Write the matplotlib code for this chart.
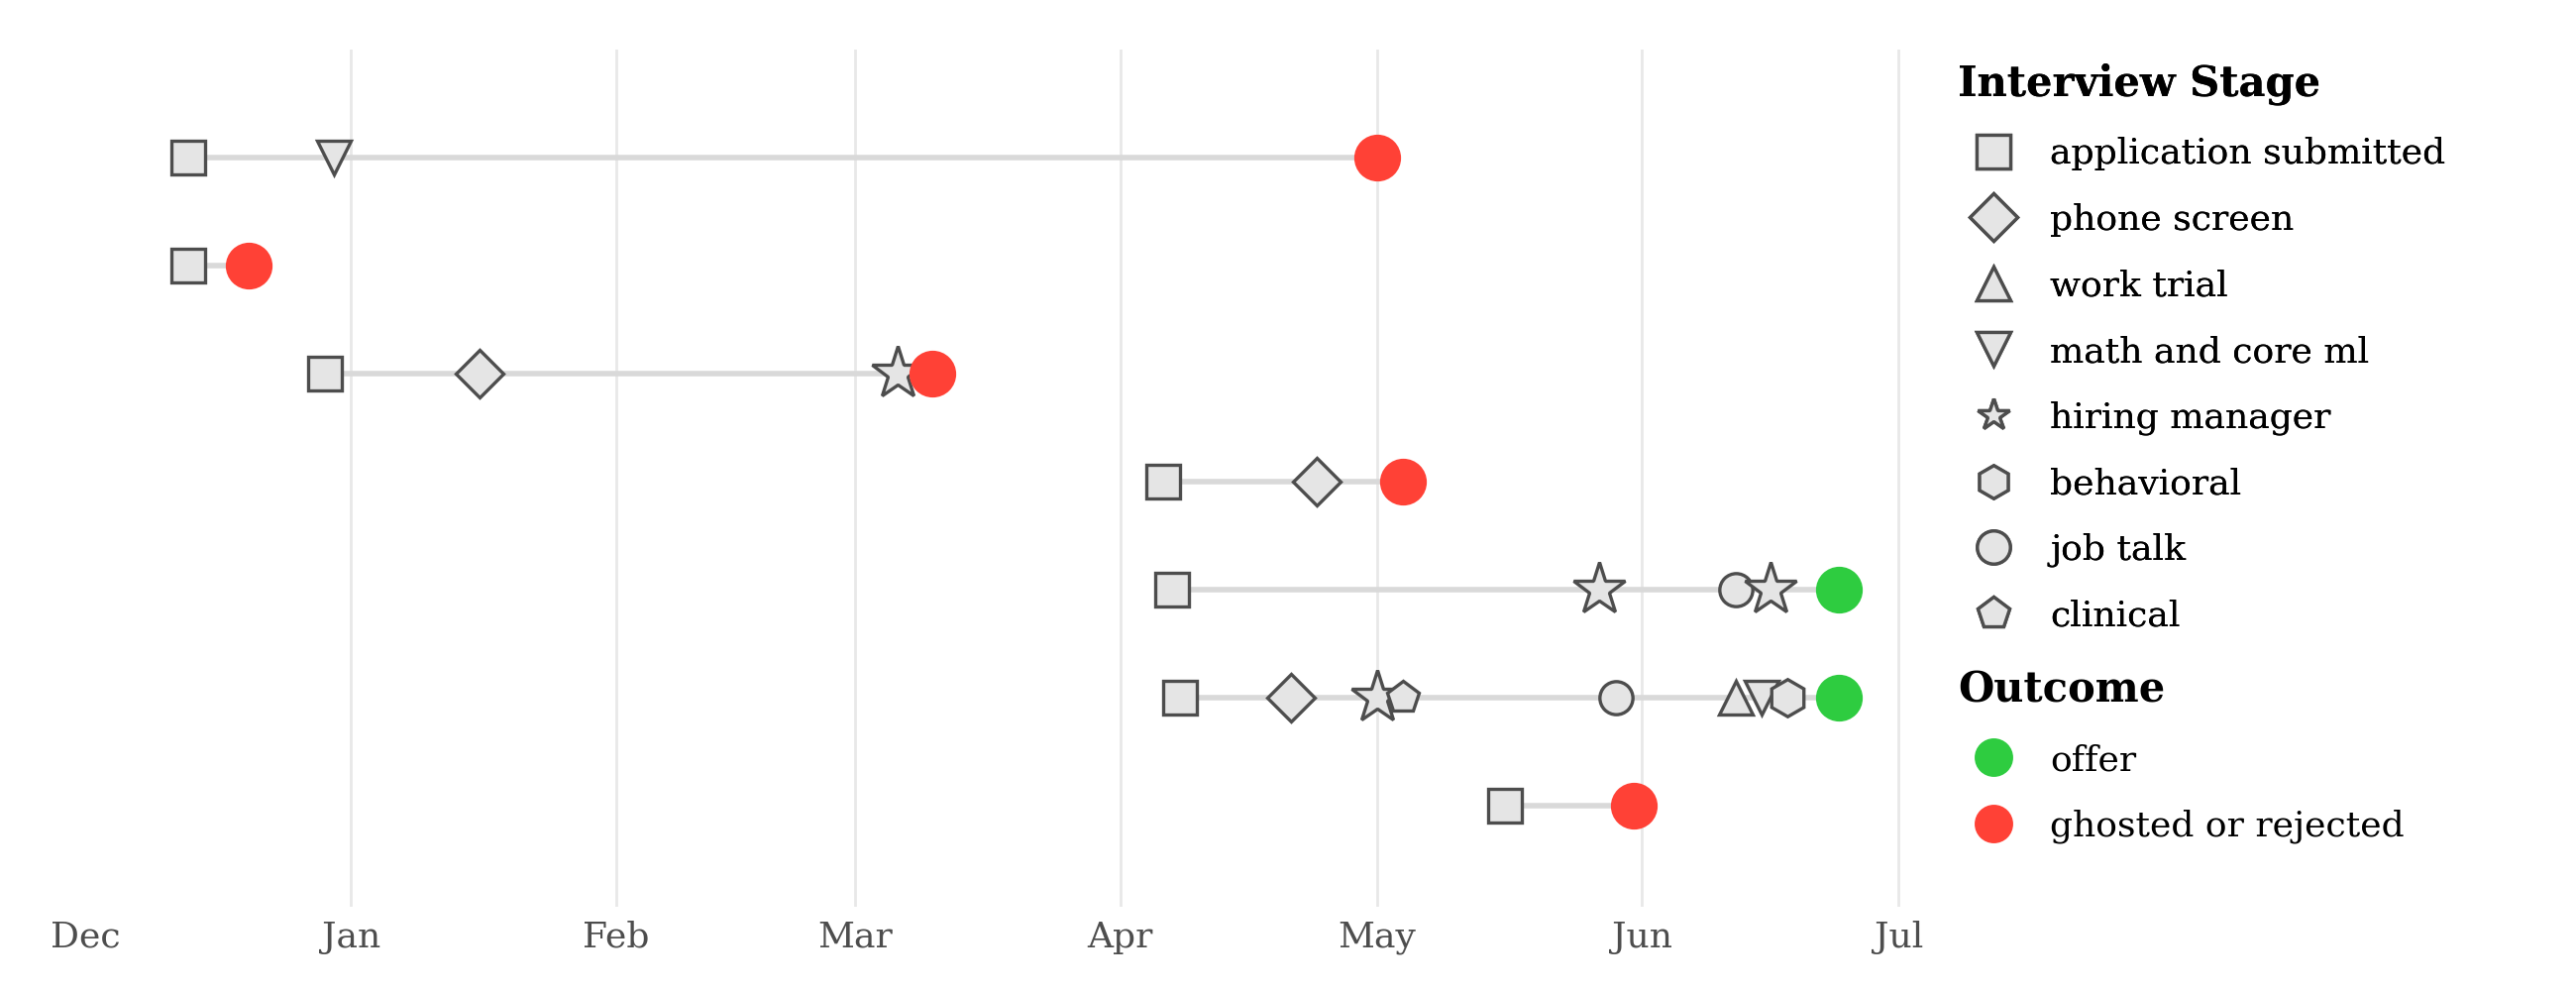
import matplotlib
matplotlib.use("Agg")
import matplotlib.pyplot as plt
import matplotlib.dates as mdates
from matplotlib.lines import Line2D
import pandas as pd

plt.rcParams['font.family'] = ['DejaVu Serif']

# ---- data ----
stages = ["application submitted", "phone screen", "work trial", "math and core ml",
          "hiring manager", "behavioral", "job talk", "clinical"]
stage_markers = ["s", "D", "^", "v", "*", "h", "o", "p"]

# one list per application (top to bottom): (stage, date)
app_events = [
    [("application submitted", "2024-12-13"), ("math and core ml", "2024-12-30")],
    [("application submitted", "2024-12-13")],
    [("application submitted", "2024-12-29"), ("phone screen", "2025-01-16"),
     ("hiring manager", "2025-03-06")],
    [("application submitted", "2025-04-06"), ("phone screen", "2025-04-24")],
    [("application submitted", "2025-04-07"), ("hiring manager", "2025-05-27"),
     ("job talk", "2025-06-12"), ("hiring manager", "2025-06-16")],
    [("application submitted", "2025-04-08"), ("phone screen", "2025-04-21"),
     ("hiring manager", "2025-05-01"), ("clinical", "2025-05-04"),
     ("job talk", "2025-05-29"), ("work trial", "2025-06-12"),
     ("math and core ml", "2025-06-15"), ("behavioral", "2025-06-18")],
    [("application submitted", "2025-05-16")],
]
outcome_dates = ["2025-05-01", "2024-12-20", "2025-03-10", "2025-05-04",
                 "2025-06-24", "2025-06-24", "2025-05-31"]
outcomes = ["ghosted or rejected", "ghosted or rejected", "ghosted or rejected",
            "ghosted or rejected", "offer", "offer", "ghosted or rejected"]
outcome_colors = {"offer": "#2ECC40", "ghosted or rejected": "#FF4136"}

month_ticks = ["2024-12-01", "2025-01-01", "2025-02-01", "2025-03-01",
               "2025-04-01", "2025-05-01", "2025-06-01", "2025-07-01"]

FACE = "#e5e5e5"
EDGE = "#4d4d4d"

fig = plt.figure(figsize=(13, 5), dpi=200)
ax = fig.add_axes([0.0333, 0.085, 0.717, 0.865])

for i, evs in enumerate(app_events):
    d = [pd.Timestamp(x) for _, x in evs]
    end = pd.Timestamp(outcome_dates[i])
    ax.plot([d[0], end], [i, i], color="#d9d9d9", lw=2, zorder=1, solid_capstyle="butt")
    for (st, _), dd in zip(evs, d):
        m = stage_markers[stages.index(st)]
        ms = {"*": 20, "h": 13.5}.get(m, 12)
        ax.plot([dd], [i], marker=m, ms=ms, mfc=FACE, mec=EDGE, mew=1.2,
                ls="none", zorder=3)
    ax.plot([end], [i], marker="o", ms=16, color=outcome_colors[outcomes[i]],
            ls="none", zorder=4)

ax.set_ylim(6.94, -1.0)
ax.set_xlim(pd.Timestamp("2024-12-01"), pd.Timestamp("2025-07-05"))
ax.set_xticks([pd.Timestamp(t) for t in month_ticks])
ax.xaxis.set_major_formatter(mdates.DateFormatter("%b"))
ax.set_yticks([])
ax.grid(axis="x", color="#e8e8e8", lw=1)
ax.xaxis.get_gridlines()[0].set_visible(False)
ax.set_axisbelow(True)
for s in ax.spines.values():
    s.set_visible(False)
ax.tick_params(axis="x", length=0, labelsize=13, labelcolor="#4d4d4d", pad=5)

# ---- legends ----
stage_handles = [Line2D([], [], marker=m, ms=12, mfc=FACE, mec=EDGE, mew=1.2, ls="none")
                 for m in stage_markers]
out_handles = [Line2D([], [], marker="o", ms=13, color=outcome_colors[k], ls="none")
               for k in ["offer", "ghosted or rejected"]]

leg1 = fig.legend(stage_handles, stages, title="Interview Stage", loc="upper left",
                  bbox_to_anchor=(0.7475, 0.969), frameon=False, fontsize=13,
                  title_fontproperties={"weight": "bold", "size": 15},
                  alignment="left", labelspacing=0.9, handletextpad=0.58)
fig.add_artist(leg1)
fig.legend(out_handles, ["offer", "ghosted or rejected"], title="Outcome", loc="upper left",
           bbox_to_anchor=(0.7475, 0.357), frameon=False, fontsize=13,
           title_fontproperties={"weight": "bold", "size": 15},
           alignment="left", labelspacing=0.9, handletextpad=0.58)

fig.savefig("out.png", dpi=200, facecolor="white")
